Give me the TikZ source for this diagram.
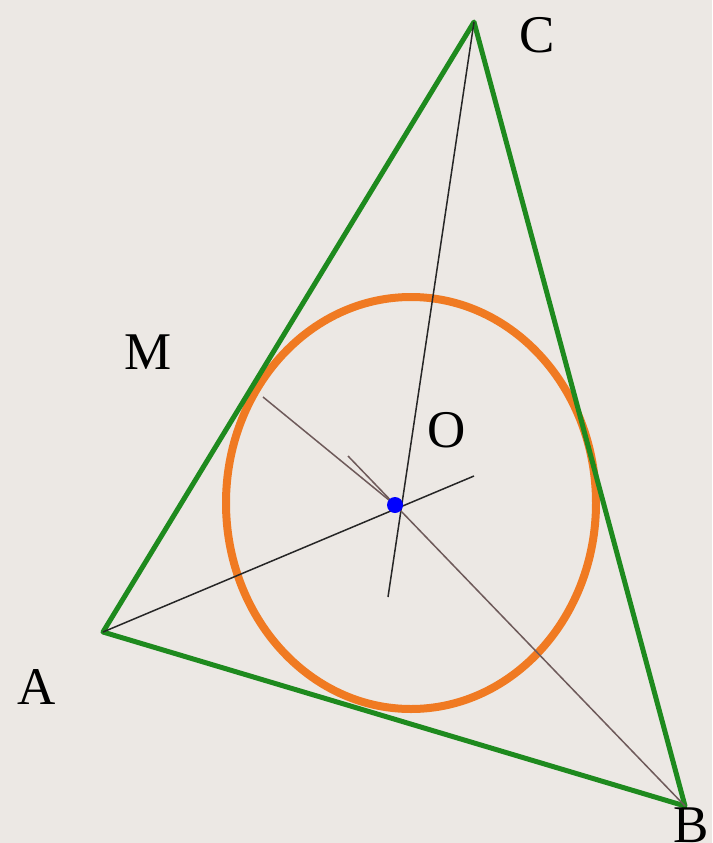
\documentclass[tikz,border=0pt]{standalone}
\usepackage{fontspec}
\setmainfont{Liberation Serif}
\definecolor{bg}{HTML}{ECE8E4}
\definecolor{tri}{HTML}{1E8A1E}
\definecolor{circ}{HTML}{F07A22}
\definecolor{bis}{HTML}{6E5A5A}
\begin{document}
\begin{tikzpicture}[x=1pt,y=-1pt,
  lbl/.style={font=\fontsize{53}{60}\selectfont, inner sep=0pt},
  side/.style={draw=tri, line width=5pt, line join=round},
  thin/.style={draw=black!85, line width=1.5pt},
  thinb/.style={draw=bis, line width=1.5pt}]
\fill[bg] (0,0) rectangle (712,843);
\useasboundingbox (0,0) rectangle (712,843);
\coordinate (A) at (103,632);
\coordinate (B) at (685,806);
\coordinate (C) at (474,22);
\coordinate (O) at (395,505);
\coordinate (a2) at (474,476);
\coordinate (c2) at (388,597);
\coordinate (b2) at (348,456);
\coordinate (m1) at (263,397);
\draw[circ, line width=8pt] (411,503) ellipse [x radius=185, y radius=206];
\draw[side] (A) -- (B) -- (C) -- cycle;
\draw[thin] (A) -- (a2);
\draw[thin] (C) -- (c2);
\draw[thinb] (B) -- (b2);
\draw[thinb] (m1) -- (O);
\fill[blue] (O) circle (8);
\node[lbl] (lC) at (537,35) {C};
\node[lbl] (lM) at (148,352) {M};
\node[lbl] (lO) at (447,430) {O};
\node[lbl] (lA) at (37,687) {A};
\node[lbl] (lB) at (691,825) {B};
\end{tikzpicture}
\end{document}
